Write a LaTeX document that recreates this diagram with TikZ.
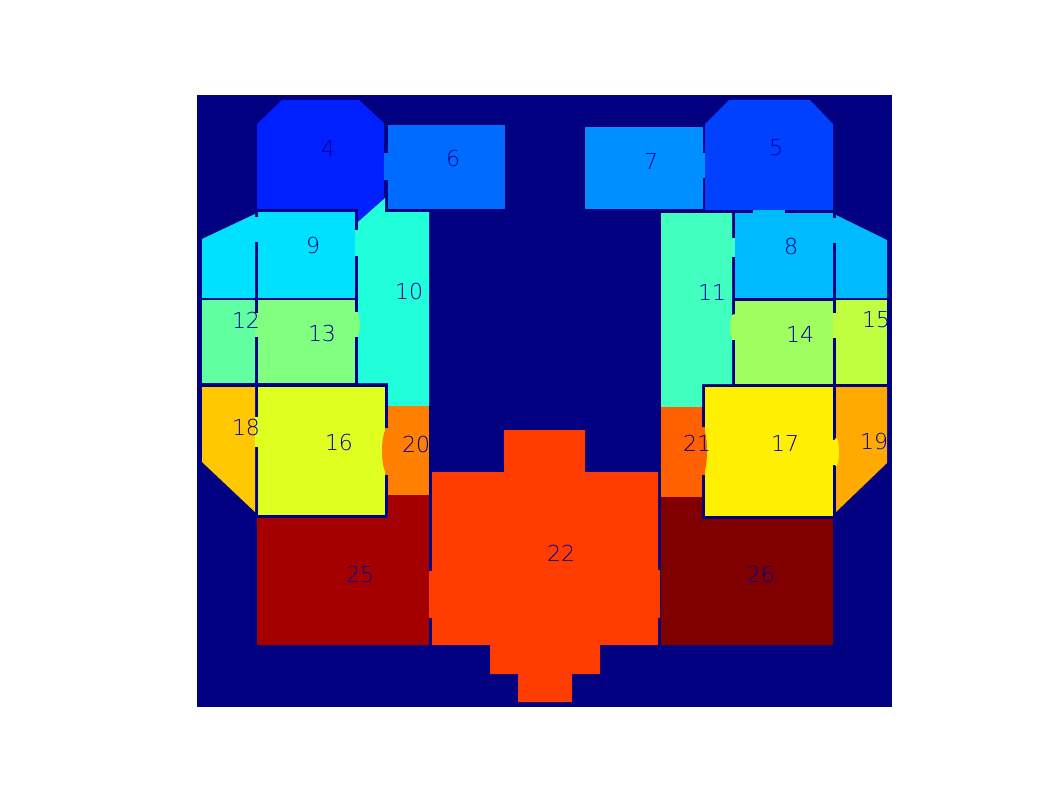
\documentclass[tikz,border=0pt]{standalone}
\usepackage{fontspec}
\setmainfont{Liberation Sans}
\newfontfamily\thinfont{DejaVu Sans ExtraLight}
\definecolor{bg}{RGB}{0,0,128}
\definecolor{txt}{RGB}{0,0,150}
\definecolor{c4}{RGB}{0,32,255}
\definecolor{c5}{RGB}{0,64,255}
\definecolor{c6}{RGB}{0,108,255}
\definecolor{c7}{RGB}{0,143,255}
\definecolor{c8}{RGB}{0,186,255}
\definecolor{c9}{RGB}{0,224,255}
\definecolor{c10}{RGB}{32,255,218}
\definecolor{c11}{RGB}{64,255,191}
\definecolor{c12}{RGB}{96,255,159}
\definecolor{c13}{RGB}{128,255,128}
\definecolor{c14}{RGB}{159,255,96}
\definecolor{c15}{RGB}{191,255,64}
\definecolor{c16}{RGB}{223,255,32}
\definecolor{c17}{RGB}{255,239,0}
\definecolor{c18}{RGB}{255,200,0}
\definecolor{c19}{RGB}{255,170,0}
\definecolor{c20}{RGB}{255,128,0}
\definecolor{c21}{RGB}{255,96,0}
\definecolor{c22}{RGB}{255,60,0}
\definecolor{c25}{RGB}{165,0,0}
\definecolor{c26}{RGB}{128,0,0}
\begin{document}
\begin{tikzpicture}[x=1pt,y=-1pt,
  lab/.style={text=txt,font=\thinfont\fontsize{22}{22}\selectfont,inner sep=0pt}]
\useasboundingbox (0,0) rectangle (1062,796);
\fill[white] (0,0) rectangle (1062,796);
\fill[bg] (197,95) rectangle (892,707);
% ---- left wing ----
\fill[c4] (257,124) -- (282,100) -- (359,100) -- (384,123) -- (384,198) -- (358,222) -- (358,209) -- (257,209) -- cycle;
\fill[c6] (388,125) rectangle (505,209);
\fill[c6] (384,153) rectangle (388,180);
\fill[c9] (202,239) -- (255,214) -- (255,298) -- (202,298) -- cycle;
\fill[c9] (258,212) rectangle (355,298);
\fill[c9] (255,217) rectangle (258,242);
\fill[c10] (358,222) -- (385,198) -- (385,212) -- (429,212) -- (429,406) -- (388,406) -- (388,383) -- (358,383) -- cycle;
\fill[c10] (355,230) rectangle (358,256);
\fill[c12] (202,300) rectangle (255,383);
\fill[c13] (258,300) rectangle (355,383);
\fill[c13] (255,313) rectangle (258,337);
\fill[c13] (355,312) rectangle (358,337);
\fill[c13] (356,325) ellipse [x radius=4, y radius=12];
\fill[c18] (202,387) -- (255,387) -- (255,512) -- (202,462) -- cycle;
\fill[c16] (258,387) rectangle (385,515);
\fill[c16] (255,417) rectangle (258,447);
\fill[c20] (388,406) rectangle (429,495);
\fill[c20] (385,428) rectangle (388,475);
\fill[c20] (387,451) ellipse [x radius=5, y radius=22];
\fill[c25] (257,518) -- (388,518) -- (388,495) -- (429,495) -- (429,645) -- (257,645) -- cycle;
% ---- centre ----
\fill[c22] (432,472) -- (504,472) -- (504,430) -- (585,430) -- (585,472) -- (658,472) -- (658,645) -- (600,645) -- (600,674) -- (572,674) -- (572,702) -- (518,702) -- (518,674) -- (490,674) -- (490,645) -- (432,645) -- cycle;
\fill[c22] (429,571) rectangle (432,618);
\fill[c22] (658,570) rectangle (660,618);
% ---- right wing ----
\fill[c7] (585,127) rectangle (703,209);
\fill[c5] (705,124) -- (729,100) -- (810,100) -- (833,124) -- (833,210) -- (705,210) -- cycle;
\fill[c7] (703,153) rectangle (705,178);
\fill[c11] (661,213) -- (732,213) -- (732,384) -- (702,384) -- (702,407) -- (661,407) -- cycle;
\fill[c8] (735,213) rectangle (833,298);
\fill[c8] (836,215) -- (887,240) -- (887,298) -- (836,298) -- cycle;
\fill[c8] (833,218) rectangle (836,243);
\fill[c8] (753,210) rectangle (785,213);
\fill[c11] (732,238) rectangle (735,257);
\fill[c14] (735,301) rectangle (833,384);
\fill[c14] (732,315) rectangle (735,340);
\fill[c14] (734,327) ellipse [x radius=4, y radius=13];
\fill[c15] (836,300) rectangle (887,384);
\fill[c15] (833,313) rectangle (836,338);
\fill[c17] (705,387) rectangle (833,516);
\fill[c17] (833,440) rectangle (836,465);
\fill[c19] (836,387) -- (887,387) -- (887,463) -- (836,512) -- cycle;
\fill[c17] (836,452) ellipse [x radius=3, y radius=14];
\fill[c21] (661,407) rectangle (702,497);
\fill[c21] (702,427) rectangle (705,475);
\fill[c21] (703,451) ellipse [x radius=4, y radius=22];
\fill[c26] (661,497) -- (702,497) -- (702,519) -- (833,519) -- (833,645) -- (661,645) -- cycle;
% ---- labels ----
\node[lab] (l4) at (328,148) {4};
\node[lab] (l6) at (453,158) {6};
\node[lab] (l9) at (313,245) {9};
\node[lab] (l10) at (409,291) {10};
\node[lab] (l12) at (246,320) {12};
\node[lab] (l13) at (322,333) {13};
\node[lab] (l18) at (246,427) {18};
\node[lab] (l16) at (339,442) {16};
\node[lab] (l20) at (416,444) {20};
\node[lab] (l25) at (360,574) {25};
\node[lab] (l22) at (561,553) {22};
\node[lab] (l7) at (651,161) {7};
\node[lab] (l5) at (776,148) {5};
\node[lab] (l8) at (791,246) {8};
\node[lab] (l11) at (712,292) {11};
\node[lab] (l14) at (800,334) {14};
\node[lab] (l15) at (876,320) {15};
\node[lab] (l21) at (697,443) {21};
\node[lab] (l17) at (785,443) {17};
\node[lab] (l19) at (874,441) {19};
\node[lab] (l26) at (761,574) {26};
\end{tikzpicture}
\end{document}
